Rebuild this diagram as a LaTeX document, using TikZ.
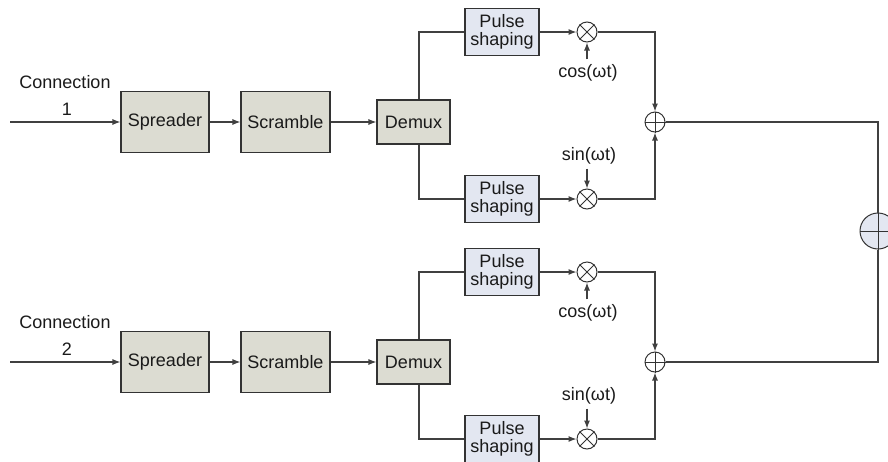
\documentclass[tikz,border=0pt]{standalone}
\usepackage{fontspec}
\setmainfont{Liberation Sans}
\usetikzlibrary{arrows.meta}
\definecolor{boxgray}{HTML}{DCDCD2}
\definecolor{boxblue}{HTML}{E3E7F1}
\definecolor{linegray}{HTML}{404040}
\definecolor{edgegray}{HTML}{333333}
\definecolor{txt}{HTML}{1A1A1A}
\begin{document}
\begin{tikzpicture}[x=1pt,y=-1pt,
  every node/.style={font=\fontsize{18}{18}\selectfont, text=txt},
  graybox/.style={draw=edgegray, line width=1.1pt, fill=boxgray, inner sep=0pt, align=center},
  bluebox/.style={draw=edgegray, line width=1.1pt, fill=boxblue, inner sep=0pt, align=center, minimum width=74pt, minimum height=47pt},
  mixer/.style={circle, draw=edgegray, line width=1pt, minimum size=20pt, inner sep=0pt},
  xline/.style={draw=edgegray, line width=1pt},
  conn/.style={draw=linegray, line width=1.1pt},
  arr/.style={conn, -{Latex[length=8pt,width=6pt]}},
  lbl/.style={inner sep=0pt}
]
\useasboundingbox (0,0) rectangle (888,461);
\foreach \i/\dy in {1/0,2/240}{
  \node[lbl, anchor=base] (c\i) at (65,88+\dy) {Connection};
  \node[lbl, anchor=base] (n\i) at (67,115+\dy) {\i};
  \coordinate (in\i) at (10,122+\dy);
  \node[graybox, minimum width=88pt, minimum height=61pt] (sp\i) at (165,122+\dy) {Spreader};
  \node[graybox, minimum width=89pt, minimum height=61pt] (sc\i) at (285.5,122+\dy) {Scramble};
  \node[graybox, minimum width=73pt, minimum height=44pt] (dm\i) at (413.5,122+\dy) {Demux};
  \coordinate (br\i) at (419,122+\dy);
  \node[bluebox] (pst\i) at (502,32+\dy) {Pulse\\shaping};
  \node[bluebox] (psb\i) at (502,199+\dy) {Pulse\\shaping};
  \node[mixer] (mt\i) at (587,32+\dy) {};
  \node[mixer] (mb\i) at (587,199+\dy) {};
  \node[mixer] (ad\i) at (655,122+\dy) {};
  \node[lbl] (cs\i) at (588,73+\dy) {cos(ωt)};
  \node[lbl] (sn\i) at (589,156+\dy) {sin(ωt)};
  \draw[xline] (mt\i.north east) -- (mt\i.south west) (mt\i.north west) -- (mt\i.south east);
  \draw[xline] (mb\i.north east) -- (mb\i.south west) (mb\i.north west) -- (mb\i.south east);
  \draw[xline] (ad\i.north) -- (ad\i.south) (ad\i.west) -- (ad\i.east);
  \draw[arr] (in\i) -- (sp\i);
  \draw[arr] (sp\i) -- (sc\i);
  \draw[arr] (sc\i) -- (dm\i);
  \draw[conn] (dm\i.north -| br\i) |- (pst\i.west);
  \draw[conn] (dm\i.south -| br\i) |- (psb\i.west);
  \draw[arr] (pst\i) -- (mt\i);
  \draw[arr] (psb\i) -- (mb\i);
  \draw[arr] (cs\i.north -| mt\i) ++(0,-5) -- (mt\i.south);
  \draw[arr] (sn\i.south -| mb\i) ++(0,4) -- (mb\i.north);
  \draw[arr] (mt\i.east) -| (ad\i.north);
  \draw[arr] (mb\i.east) -| (ad\i.south);
}
\node[mixer, minimum size=36pt, fill=boxblue] (big) at (878,231) {};
\draw[xline] (big.north) -- (big.south) (big.west) -- (big.east);
\draw[conn] (ad1.east) -| (big.north);
\draw[conn] (ad2.east) -| (big.south);
\end{tikzpicture}
\end{document}
